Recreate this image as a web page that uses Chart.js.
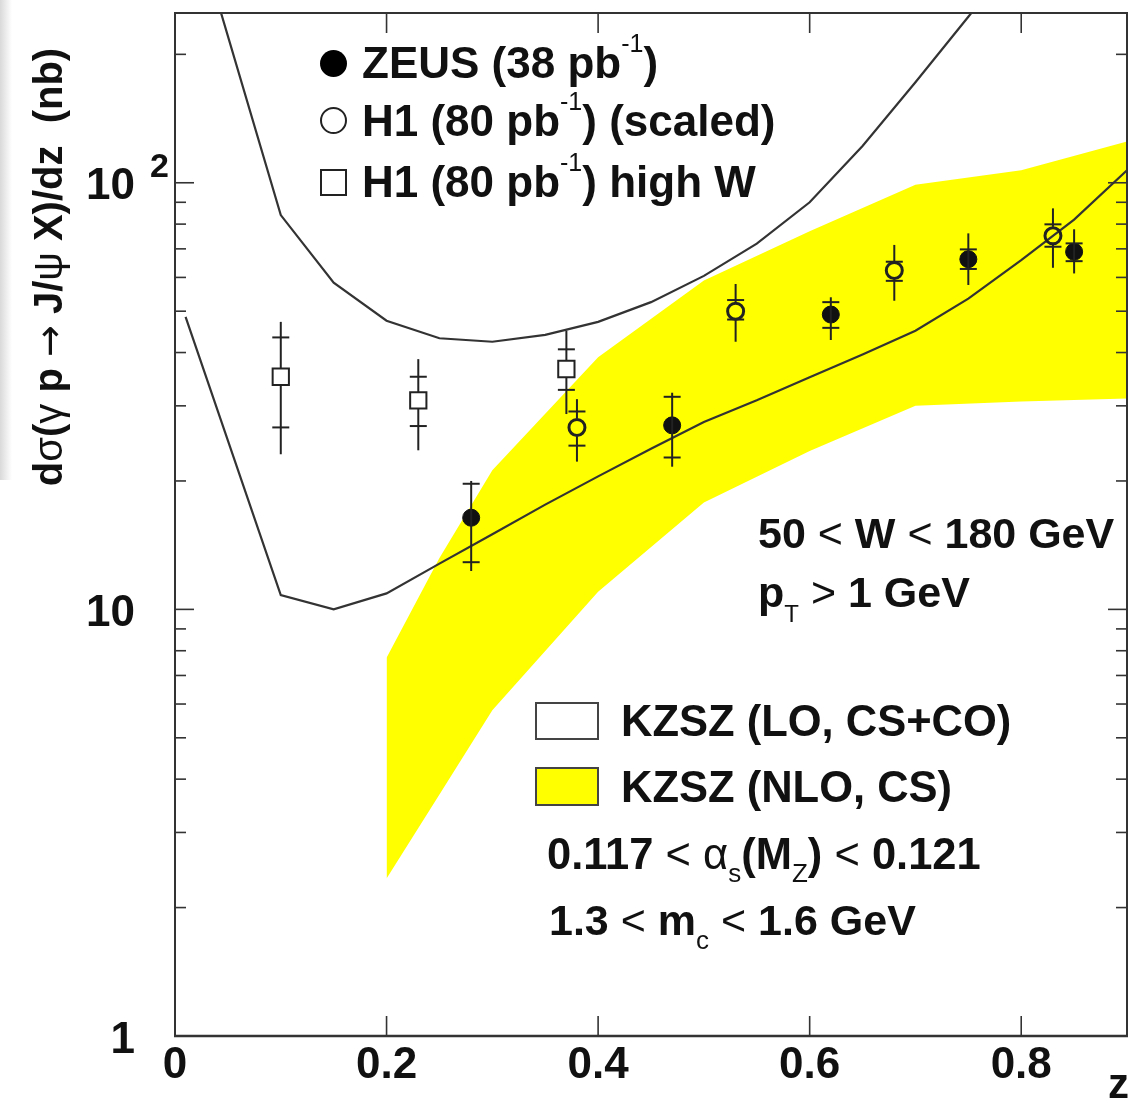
<!DOCTYPE html>
<html><head><meta charset="utf-8">
<script src="https://cdn.jsdelivr.net/npm/chart.js@4.4.0/dist/chart.umd.min.js"></script>
<style>
html,body{margin:0;padding:0;background:#fff;}
#wrap{position:relative;width:1129px;height:1105px;overflow:hidden;font-family:"Liberation Sans",Arial,Helvetica,sans-serif;color:#111;}
#c{position:absolute;left:0;top:0;}
#strip{position:absolute;left:0;top:0;width:12px;height:480px;background:linear-gradient(to right,#d9d9d9,#f4f4f4 70%,#fff);}
.t{position:absolute;white-space:nowrap;font-weight:bold;line-height:1;}
.n{font-weight:normal;}
.ar{font-weight:normal;font-family:"DejaVu Sans",sans-serif;font-size:0.95em;}
.sup{position:relative;font-weight:normal;}
.sub{position:relative;font-weight:normal;}
.mk{position:absolute;box-sizing:border-box;}
</style></head>
<body><div id="wrap"><div id="strip"></div><canvas id="c" width="1129" height="1105"></canvas></div>
<script>
// ---------------- data ----------------
const xTicks = [0, 0.2, 0.4, 0.6, 0.8];
const xTickLabels = ['0', '0.2', '0.4', '0.6', '0.8'];
const yTickValues = [1, 10, 100];
const yTickLabels = ['1', '10', '10'];
const yTickSups = ['', '', '2'];

// ZEUS (38 pb-1)
const zZeus = [0.28, 0.47, 0.62, 0.75, 0.85];
const vZeus = [16.4, 27.0, 49.1, 66.2, 68.9];
const zeusStatLo = [12.9, 22.7, 45.7, 62.8, 65.5];
const zeusStatHi = [19.7, 31.5, 52.5, 69.8, 72.1];
const zeusTotLo = [12.3, 21.6, 42.8, 57.6, 61.3];
const zeusTotHi = [20.0, 32.2, 53.9, 76.1, 77.8];

// H1 (80 pb-1) (scaled)
const zH1 = [0.38, 0.53, 0.68, 0.83];
const vH1 = [26.7, 50.0, 62.3, 75.1];
const h1StatLo = [24.2, 47.8, 58.9, 70.8];
const h1StatHi = [29.1, 53.1, 65.3, 79.9];
const h1TotLo = [22.2, 42.4, 52.9, 63.2];
const h1TotHi = [31.1, 57.9, 71.5, 87.1];

// H1 (80 pb-1) high W
const zH1W = [0.10, 0.23, 0.37];
const vH1W = [35.1, 30.9, 36.6];
const h1wStatLo = [26.7, 26.9, 32.7];
const h1wStatHi = [43.4, 35.1, 40.7];
const h1wTotLo = [23.1, 23.6, 28.7];
const h1wTotHi = [47.2, 38.6, 45.0];

// KZSZ (LO, CS+CO) band edges
const zLO = [0.01, 0.10, 0.15, 0.20, 0.25, 0.30, 0.35, 0.40, 0.45, 0.50, 0.55, 0.60, 0.65, 0.70, 0.75, 0.80, 0.85, 0.90];
const loLower = [48.5, 10.8, 10.0, 10.9, 12.8, 15.0, 17.6, 20.5, 23.8, 27.5, 30.9, 35.0, 39.6, 45.0, 53.5, 65.9, 82.0, 107];
const loUpper = [478, 84.0, 58.3, 47.5, 43.2, 42.4, 44.0, 47.2, 52.5, 60.5, 72.0, 90.0, 122, 172, 245, 350, 500, 700];

// KZSZ (NLO, CS) band
const zNLO = [0.20, 0.25, 0.30, 0.40, 0.50, 0.60, 0.70, 0.80, 0.90];
const nloUpper = [7.7, 13.2, 21.2, 39.0, 59.0, 77.0, 99.0, 107, 125];
const nloLower = [2.34, 3.68, 5.8, 11.0, 17.8, 23.5, 30.0, 30.7, 31.2];

// ---------------- helpers ----------------
const pts = (xs, ys) => xs.map((x, i) => ({x: x, y: ys[i]}));
const groups = [
  {z: zZeus, v: vZeus, sl: zeusStatLo, sh: zeusStatHi, tl: zeusTotLo, th: zeusTotHi, gap: 0},
  {z: zH1, v: vH1, sl: h1StatLo, sh: h1StatHi, tl: h1TotLo, th: h1TotHi, gap: 9},
  {z: zH1W, v: vH1W, sl: h1wStatLo, sh: h1wStatHi, tl: h1wTotLo, th: h1wTotHi, gap: 8}
];

function seg(ctx, x1, y1, x2, y2) { ctx.beginPath(); ctx.moveTo(x1, y1); ctx.lineTo(x2, y2); ctx.stroke(); }

const errPlugin = {
  id: 'errbars',
  afterDatasetsDraw(chart) {
    const {ctx, scales: {x, y}} = chart;
    ctx.save();
    ctx.strokeStyle = '#222';
    ctx.lineWidth = 2;
    groups.forEach(g => {
      g.z.forEach((z, i) => {
        const px = x.getPixelForValue(z), py = y.getPixelForValue(g.v[i]);
        const th = y.getPixelForValue(g.th[i]), tl = y.getPixelForValue(g.tl[i]);
        const sh = y.getPixelForValue(g.sh[i]), sl = y.getPixelForValue(g.sl[i]);
        if (g.gap > 0) { seg(ctx, px, th, px, py - g.gap); seg(ctx, px, py + g.gap, px, tl); }
        else seg(ctx, px, th, px, tl);
        seg(ctx, px - 8.5, sh, px + 8.5, sh);
        seg(ctx, px - 8.5, sl, px + 8.5, sl);
      });
    });
    ctx.restore();
  }
};

const framePlugin = {
  id: 'frame',
  afterDraw(chart) {
    const {ctx, chartArea: a, scales: {x, y}} = chart;
    ctx.save();
    ctx.strokeStyle = '#333';
    ctx.lineWidth = 2;
    ctx.strokeRect(a.left, a.top, a.right - a.left, a.bottom - a.top);
    ctx.lineWidth = 2.6;
    seg(ctx, a.left - 1, a.bottom, a.right + 1, a.bottom);
    ctx.lineWidth = 1.6;
    xTicks.forEach(v => {
      if (v <= x.min) return;
      const px = x.getPixelForValue(v);
      seg(ctx, px, a.bottom, px, a.bottom - 20);
      seg(ctx, px, a.top, px, a.top + 20);
    });
    [1, 10, 100].forEach(d => {
      for (let m = 1; m <= 9; m++) {
        const v = d * m;
        if (v <= y.min || v > y.max) continue;
        const py = y.getPixelForValue(v);
        const len = m === 1 ? 19 : 11;
        seg(ctx, a.left, py, a.left + len, py);
        seg(ctx, a.right, py, a.right - len, py);
      }
    });
    ctx.restore();
  }
};

const lineCol = '#333';
const chart = new Chart(document.getElementById('c'), {
  type: 'line',
  data: {
    datasets: [
      {data: pts(zZeus, vZeus), showLine: false, pointStyle: 'circle', pointRadius: 8.5, backgroundColor: '#111', borderColor: '#111', borderWidth: 1, order: 0},
      {data: pts(zH1, vH1), showLine: false, pointStyle: 'circle', pointRadius: 8, backgroundColor: 'rgba(0,0,0,0)', borderColor: '#222', borderWidth: 3, order: 0},
      {data: pts(zH1W, vH1W), showLine: false, pointStyle: 'rect', pointRadius: 11.5, backgroundColor: 'rgba(0,0,0,0)', borderColor: '#222', borderWidth: 2, order: 0},
      {data: pts(zLO, loLower), borderColor: lineCol, borderWidth: 2.2, pointRadius: 0, tension: 0, fill: false, order: 1},
      {data: pts(zLO, loUpper), borderColor: lineCol, borderWidth: 2.2, pointRadius: 0, tension: 0, fill: false, order: 1},
      {data: pts(zNLO, nloUpper), borderWidth: 0, borderColor: 'rgba(0,0,0,0)', pointRadius: 0, tension: 0, fill: '+1', backgroundColor: '#ffff00', order: 2},
      {data: pts(zNLO, nloLower), borderWidth: 0, borderColor: 'rgba(0,0,0,0)', pointRadius: 0, tension: 0, fill: false, order: 2}
    ]
  },
  options: {
    responsive: false, animation: false, devicePixelRatio: 1, events: [],
    layout: {autoPadding: false, padding: {top: 13, right: 2, left: 0, bottom: 0}},
    plugins: {legend: {display: false}, tooltip: {enabled: false}},
    scales: {
      x: {
        type: 'linear', min: 0, max: 0.9,
        grid: {display: false, drawTicks: false}, border: {display: false},
        afterBuildTicks: s => { s.ticks = xTicks.map(v => ({value: v})); },
        afterFit: s => { s.height = 69; s.paddingLeft = 0; s.paddingRight = 0; },
        ticks: {
          autoSkip: false, maxRotation: 0, padding: 3, color: '#111',
          font: {family: 'Liberation Sans, Arial, sans-serif', size: 44, weight: 'bold'},
          callback: (v) => { const i = xTicks.indexOf(v); return i >= 0 ? xTickLabels[i] : ''; }
        }
      },
      y: {
        type: 'logarithmic', min: 1, max: 250,
        grid: {display: false, drawTicks: false}, border: {display: false},
        ticks: {display: false},
        afterFit: s => { s.width = 175; s.paddingTop = 0; s.paddingBottom = 0; }
      }
    }
  },
  plugins: [errPlugin, framePlugin]
});

// ---------------- HTML text ----------------
const wrap = document.getElementById('wrap');
function txt(html, left, baseline, fs, extra) {
  const d = document.createElement('div');
  d.className = 't';
  d.style.fontSize = fs + 'px';
  d.style.left = left + 'px';
  d.style.top = (baseline - 0.8465 * fs) + 'px';
  if (extra) Object.assign(d.style, extra);
  d.innerHTML = html;
  wrap.appendChild(d);
  return d;
}
function mk(left, top, w, h, style) {
  const d = document.createElement('div');
  d.className = 'mk';
  Object.assign(d.style, {left: left + 'px', top: top + 'px', width: w + 'px', height: h + 'px'}, style);
  wrap.appendChild(d);
}
const sup = (s, fs, up) => `<span class="sup" style="font-size:${fs}px;top:-${up}px">${s}</span>`;
const sub = (s, fs, dn) => `<span class="sub" style="font-size:${fs}px;top:${dn}px">${s}</span>`;
const lt = '<span class="n">&lt;</span>';
const gt = '<span class="n">&gt;</span>';

// y tick labels (positions from the chart's y scale)
const ys = chart.scales.y;
yTickValues.forEach((v, i) => {
  const py = ys.getPixelForValue(v);
  const fs = 44;
  txt(yTickLabels[i], 0, py + 1 + 0.358 * fs, fs, {width: '135px', textAlign: 'right', left: '0px'});
  if (yTickSups[i]) txt(yTickSups[i], 150, py - 6, 34);
});

// axis titles
txt('d<span class="n">σ</span>(<span class="n">γ</span> p <span class="ar">→</span> J/<span class="n">ψ</span> X)/dz&nbsp;&nbsp;(nb)', 0, 0, 40,
  {width: '520px', textAlign: 'center', left: (48 - 260) + 'px', top: (267 - 20) + 'px', transform: 'rotate(-90deg)', transformOrigin: '50% 50%', height: '40px'});
txt('z', 1108, 1099, 42);

// data legend
mk(320, 50, 27, 27, {borderRadius: '50%', background: '#000'});
mk(320, 107, 27, 27, {borderRadius: '50%', border: '2px solid #222'});
mk(320, 169, 27, 27, {border: '2px solid #222'});
txt('ZEUS (38 pb' + sup('-1', 25, 26) + ')', 362, 78, 44);
txt('H1 (80 pb' + sup('-1', 25, 26) + ') (scaled)', 362, 136, 44);
txt('H1 (80 pb' + sup('-1', 25, 26) + ') high W', 362, 197, 44);

// kinematic range
txt('50 ' + lt + ' W ' + lt + ' 180 GeV', 758, 548, 43);
txt('p' + sub('T', 24, 15) + ' ' + gt + ' 1 GeV', 758, 607, 43);

// theory legend
mk(535, 702, 64, 38, {border: '2px solid #444', background: '#fff'});
mk(535, 767, 64, 39, {border: '2px solid #444', background: '#ffff00'});
txt('KZSZ (LO, CS+CO)', 621, 737, 43.5);
txt('KZSZ (NLO, CS)', 621, 803, 43.5);
txt('0.117 ' + lt + ' <span class="n">α</span>' + sub('s', 26, 13) + '(M' + sub('Z', 26, 13) + ') ' + lt + ' 0.121', 547, 870, 43.5);
txt('1.3 ' + lt + ' m' + sub('c', 26, 14) + ' ' + lt + ' 1.6 GeV', 549, 935, 43);
</script></body></html>
